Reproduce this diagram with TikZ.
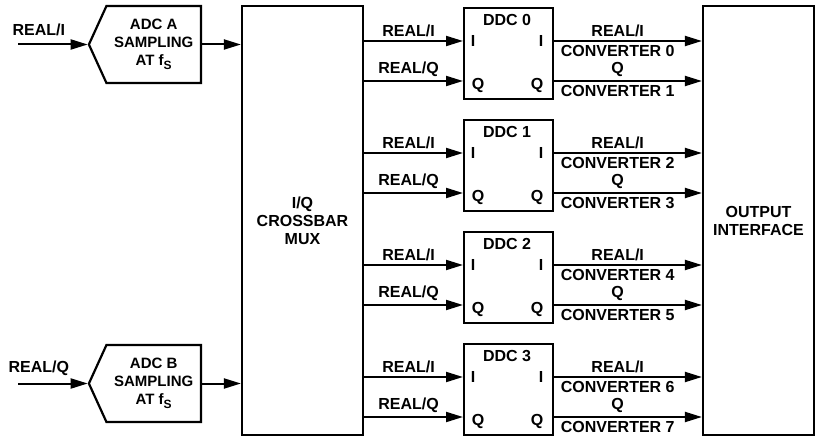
\documentclass[tikz,border=0pt]{standalone}
\usepackage{fontspec}
\setmainfont{Liberation Sans}
\usetikzlibrary{arrows.meta,shapes.symbols}
\newcommand{\fs}{f\raisebox{-4pt}{\fontsize{12}{12}\selectfont S}}

\begin{document}
\begin{tikzpicture}
[x=1pt,y=-1pt,
 font=\fontsize{16}{18}\selectfont\bfseries,
 blk/.style={draw,rectangle,line width=2.2pt,inner sep=0pt,align=center},
 adc/.style={draw,signal,signal to=west,signal from=nowhere,signal pointer angle=131,
   line width=2.2pt,minimum width=112pt,minimum height=77pt,inner sep=0pt,align=center,
   font=\fontsize{15}{18}\selectfont\bfseries},
 arr/.style={line width=2pt,-{Triangle[length=17pt,width=10pt]}},
 port/.style={inner sep=0pt}]
\useasboundingbox (0,0) rectangle (816,438);

% Nodes of the diagram
\node(adcA)[adc,anchor=east] at (202,44.5) {ADC A\\SAMPLING\\AT \fs};
\node(adcB)[adc,anchor=east] at (202,383.5) {ADC B\\SAMPLING\\AT \fs};
\coordinate (inA) at (18,44.5);
\coordinate (inB) at (18,383.5);

\node(mux)[blk,minimum width=121pt,minimum height=429pt] at (302.5,220.5) {I/Q\\CROSSBAR\\MUX};
\node(out)[blk,minimum width=111pt,minimum height=429pt] at (758.5,220.5) {OUTPUT\\INTERFACE};

% ADC inputs
\draw[arr] (inA) to node[above,pos=.3,yshift=4pt]{REAL/I} (adcA.west);
\draw[arr] (inB) to node[above,pos=.3,yshift=4pt]{REAL/Q} (adcB.west);
\draw[arr] (adcA.east) to (adcA.east -| mux.west);
\draw[arr] (adcB.east) to (adcB.east -| mux.west);

% DDC blocks
\foreach \k in {0,...,3}{
  \pgfmathsetmacro{\t}{7+112*\k}
  \pgfmathsetmacro{\yi}{\t+34}
  \pgfmathsetmacro{\yq}{\t+74}
  \pgfmathtruncatemacro{\ca}{2*\k}
  \pgfmathtruncatemacro{\cb}{2*\k+1}
  \node(ddc\k)[blk,anchor=north west,minimum width=89pt,minimum height=91pt] at (463,\t) {};
  \node(ddc\k-t) at (507,\t+13) {DDC \k};
  \coordinate (yi\k) at (0,\yi);
  \coordinate (yq\k) at (0,\yq);
  \node(ddc\k-li)[port] at (473,\yi) {I};
  \node(ddc\k-ri)[port] at (541,\yi) {I};
  \node(ddc\k-lq)[port] at (478,\yq+4) {Q};
  \node(ddc\k-rq)[port] at (537,\yq+4) {Q};
  \draw[arr] (mux.east |- yi\k) to node[above,pos=.45]{REAL/I} (ddc\k.west |- yi\k);
  \draw[arr] (mux.east |- yq\k) to node[above,pos=.45]{REAL/Q} (ddc\k.west |- yq\k);
  \draw[arr] (ddc\k.east |- yi\k) to node[above,pos=.43]{REAL/I} node[below,pos=.43]{CONVERTER \ca} (out.west |- yi\k);
  \draw[arr] (ddc\k.east |- yq\k) to node[above,pos=.43]{Q} node[below,pos=.43]{CONVERTER \cb} (out.west |- yq\k);
}
\end{tikzpicture}
\end{document}
